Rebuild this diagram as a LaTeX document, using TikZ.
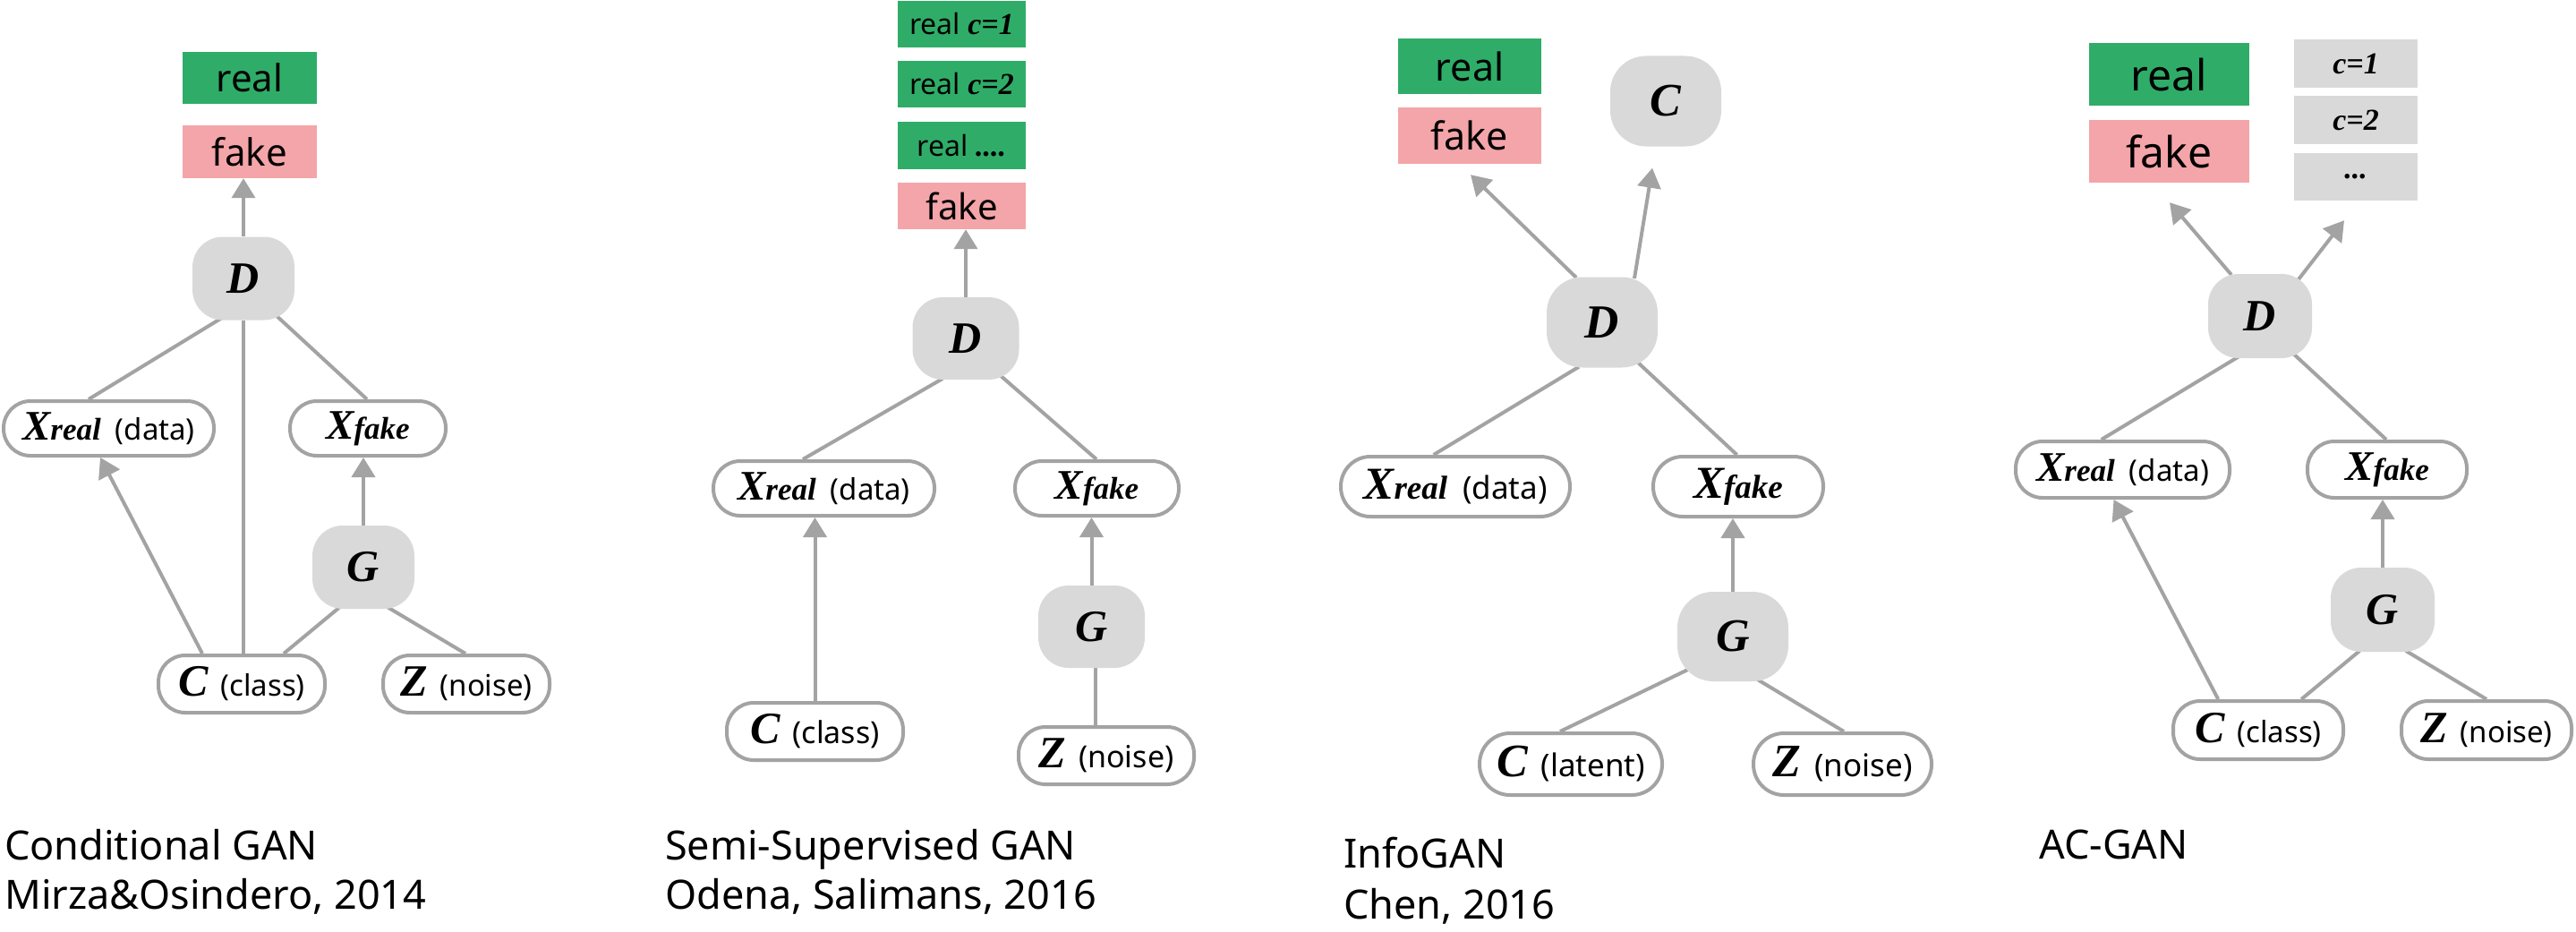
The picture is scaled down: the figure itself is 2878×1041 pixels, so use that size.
\documentclass[tikz,border=0pt]{standalone}
\usepackage{fontspec}
\setmainfont{Noto Sans}
\newfontfamily\tmsfont{Liberation Serif}
\usetikzlibrary{arrows.meta,calc}
\definecolor{grn}{RGB}{47,173,104}
\definecolor{pnk}{RGB}{244,165,169}
\definecolor{nodegray}{RGB}{217,217,217}
\definecolor{lgray}{RGB}{163,163,163}
\newcommand\BV[2][50]{{\fontsize{#1}{#1}\selectfont\tmsfont\bfseries\itshape #2}}
\newcommand\XV[3][47]{{\fontsize{#1}{#1}\selectfont\tmsfont\bfseries\itshape X}{\fontsize{#2}{#2}\selectfont\tmsfont\bfseries\itshape #3}}
\newcommand\LB[2][33]{{\fontsize{#1}{#1}\selectfont #2}}
\newcommand\CV[1]{{\fontsize{34}{34}\selectfont\tmsfont\bfseries\itshape #1}}
\pgfdeclarelayer{bg}
\pgfsetlayers{bg,main}
\tikzset{
  gn/.style={rectangle, fill=nodegray, rounded corners=34pt, inner sep=0pt},
  pill/.style={rectangle, draw=lgray, line width=4pt, fill=white, rounded corners=30pt, inner sep=0pt},
  gbox/.style={rectangle, fill=grn, inner sep=0pt},
  pbox/.style={rectangle, fill=pnk, inner sep=0pt},
  cbox/.style={rectangle, fill=nodegray, inner sep=0pt},
  conn/.style={draw=lgray, line width=4pt},
  arr/.style={conn, -{Triangle[width=26pt,length=22pt]}},
  ttl/.style={anchor=base west, inner sep=0pt, font=\fontsize{45}{45}\selectfont},
}
\begin{document}
\begin{tikzpicture}[x=1pt,y=-1pt]
\useasboundingbox (0,0) rectangle (2878,1041);

% ---------------- Panel 1: Conditional GAN
\node[gbox, minimum width=150pt, minimum height=58pt, font=\fontsize{42}{42}\selectfont] (real1) at (279,87) {real};
\node[pbox, minimum width=150pt, minimum height=59pt, font=\fontsize{42}{42}\selectfont] (fake1) at (279,169.5) {fake};
\node[gn, minimum width=114pt, minimum height=93pt] (D1) at (272,311) {\BV{D}};
\node[pill, minimum width=235pt, minimum height=61pt] (Xr1) at (121.5,478.5) {\XV{35}{real}\hspace{16pt}\LB{(data)}};
\node[pill, minimum width=174pt, minimum height=61pt] (Xf1) at (411,478.5) {\XV{35}{fake}};
\node[gn, minimum width=114pt, minimum height=93pt] (G1) at (406,633.5) {\BV{G}};
\node[pill, minimum width=186pt, minimum height=64pt] (C1) at (270,764) {\BV{C}\hspace{14pt}\LB{(class)}};
\node[pill, minimum width=186pt, minimum height=64pt] (Z1) at (521,764) {\BV{Z}\hspace{14pt}\LB{(noise)}};
\node[ttl] (t1a) at (5,960) {Conditional GAN};
\node[ttl] (t1b) at (5,1015) {Mirza\&Osindero, 2014};

% ---------------- Panel 2: Semi-Supervised GAN
\node[gbox, minimum width=143pt, minimum height=52pt, font=\fontsize{32}{32}\selectfont] (rc1) at (1074.5,27) {real \CV{c=1}};
\node[gbox, minimum width=143pt, minimum height=52pt, font=\fontsize{32}{32}\selectfont] (rc2) at (1074.5,94) {real \CV{c=2}};
\node[gbox, minimum width=143pt, minimum height=53pt, font=\fontsize{32}{32}\selectfont] (rc3) at (1074.5,162.5) {real \CV{....}};
\node[pbox, minimum width=143pt, minimum height=52pt, font=\fontsize{40}{40}\selectfont] (fake2) at (1074.5,230) {fake};
\node[gn, minimum width=119pt, minimum height=92pt] (D2) at (1079,378) {\BV{D}};
\node[pill, minimum width=247pt, minimum height=61pt] (Xr2) at (920.5,545.5) {\XV{35}{real}\hspace{16pt}\LB{(data)}};
\node[pill, minimum width=183pt, minimum height=61pt] (Xf2) at (1225.5,545.5) {\XV{35}{fake}};
\node[gn, minimum width=119pt, minimum height=92pt] (G2) at (1219.5,700) {\BV{G}};
\node[pill, minimum width=197pt, minimum height=64pt] (C2) at (910.5,817) {\BV{C}\hspace{14pt}\LB[34]{(class)}};
\node[pill, minimum width=196pt, minimum height=64pt] (Z2) at (1236,844) {\BV{Z}\hspace{14pt}\LB[34]{(noise)}};
\node[ttl] (t2a) at (743,960) {Semi-Supervised GAN};
\node[ttl] (t2b) at (743,1015) {Odena, Salimans, 2016};

% ---------------- Panel 3: InfoGAN
\node[gbox, minimum width=160pt, minimum height=62pt, font=\fontsize{43}{43}\selectfont] (real3) at (1642,74) {real};
\node[pbox, minimum width=160pt, minimum height=63pt, font=\fontsize{43}{43}\selectfont] (fake3) at (1642,151.5) {fake};
\node[gn, rounded corners=40pt, minimum width=124pt, minimum height=101pt] (C3) at (1861,113) {\BV[52]{C}};
\node[gn, rounded corners=40pt, minimum width=124pt, minimum height=101pt] (D3) at (1790,360) {\BV[53]{D}};
\node[pill, rounded corners=33pt, minimum width=256pt, minimum height=67pt] (Xr3) at (1626,543.5) {\XV[51]{37}{real}\hspace{17pt}\LB[35]{(data)}};
\node[pill, rounded corners=33pt, minimum width=190pt, minimum height=67pt] (Xf3) at (1942,543.5) {\XV[51]{37}{fake}};
\node[gn, rounded corners=40pt, minimum width=124pt, minimum height=100pt] (G3) at (1936,711) {\BV[52]{G}};
\node[pill, rounded corners=34pt, minimum width=204pt, minimum height=69pt] (L3) at (1755,853.5) {\BV[52]{C}\hspace{15pt}\LB[35]{(latent)}};
\node[pill, rounded corners=34pt, minimum width=199pt, minimum height=69pt] (Z3) at (2058.5,853.5) {\BV[52]{Z}\hspace{15pt}\LB[35]{(noise)}};
\node[ttl] (t3a) at (1501,969) {InfoGAN};
\node[ttl] (t3b) at (1501,1026) {Chen, 2016};

% ---------------- Panel 4: AC-GAN
\node[gbox, minimum width=179pt, minimum height=70pt, font=\fontsize{48}{48}\selectfont] (real4) at (2423.5,83) {real};
\node[pbox, minimum width=179pt, minimum height=70pt, font=\fontsize{48}{48}\selectfont] (fake4) at (2423.5,169) {fake};
\node[cbox, minimum width=138pt, minimum height=54pt] (c41) at (2632,71) {\CV{c=1}};
\node[cbox, minimum width=138pt, minimum height=54pt] (c42) at (2632,134) {\CV{c=2}};
\node[cbox, minimum width=138pt, minimum height=53pt] (c43) at (2632,197.5) {\CV{...}};
\node[gn, minimum width=116pt, minimum height=94pt] (D4) at (2525,353) {\BV{D}};
\node[pill, minimum width=239pt, minimum height=63pt] (Xr4) at (2371.5,524.5) {\XV{35}{real}\hspace{16pt}\LB{(data)}};
\node[pill, minimum width=178pt, minimum height=63pt] (Xf4) at (2667,524.5) {\XV{35}{fake}};
\node[gn, minimum width=116pt, minimum height=94pt] (G4) at (2662,681) {\BV{G}};
\node[pill, minimum width=190pt, minimum height=65pt] (C4) at (2523,815.5) {\BV{C}\hspace{14pt}\LB{(class)}};
\node[pill, minimum width=190pt, minimum height=65pt] (Z4) at (2778,815.5) {\BV{Z}\hspace{14pt}\LB{(noise)}};
\node[ttl] (t4a) at (2278,959) {AC-GAN};

% ---------------- connectors (behind the nodes)
\begin{pgfonlayer}{bg}
% panel 1
\draw[arr] (D1.north) -- (D1.north |- fake1.south);
\draw[conn] ($(D1)+(-24,44)$) -- ($(Xr1.north)+(-22.5,0)$);
\draw[conn] ($(D1)+(35,40)$) -- ($(Xf1.north)+(-1,0)$);
\draw[conn] (D1.south) -- (D1.south |- C1.north);
\draw[arr] ($(C1.north)+(-44,0)$) -- ($(Xr1.south)+(-9.5,0)$);
\draw[conn] ($(C1.north)+(47,0)$) -- ($(G1)+(-25,43.5)$);
\draw[conn] ($(G1)+(25,43.5)$) -- ($(Z1.north)+(-1,0)$);
\draw[arr] (G1.north) -- (G1.north |- Xf1.south);
% panel 2
\draw[arr] (D2.north) -- (D2.north |- fake2.south);
\draw[conn] ($(D2)+(-26,45)$) -- ($(Xr2.north)+(-23.5,0)$);
\draw[conn] ($(D2)+(37,40)$) -- ($(Xf2.north)+(-0.5,0)$);
\draw[arr] (C2.north) -- (C2.north |- Xr2.south);
\draw[arr] (G2.north) -- (G2.north |- Xf2.south);
\path ([xshift=4pt]G2.south) coordinate (g2s);
\draw[conn] (g2s) -- (g2s |- Z2.north);
% panel 3
\draw[arr] ($(D3)+(-29,-50)$) -- ($(fake3.south)+(1,12)$);
\draw[arr] ($(D3)+(36,-49)$) -- ($(C3.south)+(-15,24)$);
\draw[conn] ($(D3)+(-26,49.7)$) -- ($(Xr3.north)+(-24.4,0)$);
\draw[conn] ($(D3)+(39.4,44.4)$) -- ($(Xf3.north)+(-1.5,0)$);
\draw[arr] (G3.north) -- (G3.north |- Xf3.south);
\draw[conn] ($(G3)+(-48.3,36)$) -- ($(L3.north)+(-12,0)$);
\draw[conn] ($(G3)+(27.5,48)$) -- ($(Z3.north)+(1.5,0)$);
% panel 4
\draw[arr] ($(D4)+(-32,-46)$) -- ($(fake4.south)+(0.5,22)$);
\draw[arr] ($(D4)+(43,-41)$) -- ($(c43.south)+(-13,22)$);
\draw[conn] ($(D4)+(-24,45.4)$) -- ($(Xr4.north)+(-23.8,0)$);
\draw[conn] ($(D4)+(35.7,40.7)$) -- ($(Xf4.north)+(-1,0)$);
\draw[arr] ($(C4.north)+(-44.8,0)$) -- ($(Xr4.south)+(-10,0)$);
\draw[arr] (G4.north) -- (G4.north |- Xf4.south);
\draw[conn] ($(C4.north)+(48.2,0)$) -- ($(G4)+(-25.8,46)$);
\draw[conn] ($(G4)+(26,46)$) -- (Z4.north);
\end{pgfonlayer}
\end{tikzpicture}
\end{document}
